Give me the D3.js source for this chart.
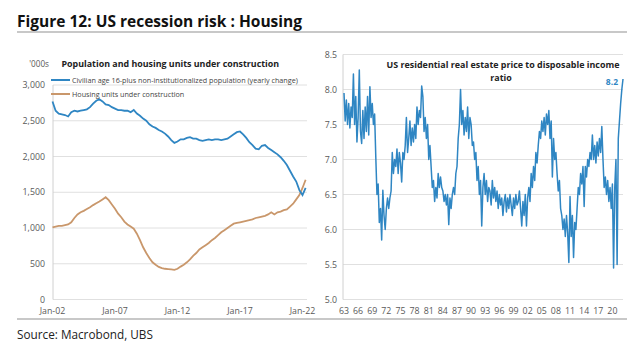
<!DOCTYPE html>
<html><head><meta charset="utf-8">
<script src="https://cdn.jsdelivr.net/npm/d3@7"></script>
<style>
html,body{margin:0;padding:0;background:#fff;}
svg{display:block;font-family:"Open Sans","Noto Sans",sans-serif;}
</style></head>
<body>
<svg id="c" width="640" height="355"></svg>
<script>
// ---------- DATA ----------
const figureTitle = "Figure 12: US recession risk : Housing";
const sourceText = "Source: Macrobond, UBS";

// Left panel (quarterly, starting Jan-2002)
const leftTitle = "Population and housing units under construction";
const leftUnit = "'000s";
const leftStartYear = 2002;
const seriesNames = ["Civilian age 16-plus non-institutionalized population (yearly change)", "Housing units under construction"];
const populationChange = [
 2770,2640,2600,2590, 2580,2560,2620,2640, 2630,2640,2650,2660, 2690,2740,2780,2800,
 2770,2730,2720,2690, 2670,2650,2650,2640, 2640,2620,2650,2600, 2570,2530,2500,2450,
 2420,2400,2370,2350, 2320,2280,2230,2190, 2210,2240,2240,2260, 2270,2250,2250,2230,
 2220,2230,2240,2230, 2240,2240,2230,2240, 2250,2280,2310,2340, 2350,2310,2260,2200,
 2160,2110,2100,2150, 2160,2120,2090,2060, 2030,1990,1940,1880, 1800,1720,1650,1530,
 1460,1560];
const housingUnits = [
 1010,1020,1030,1030, 1040,1050,1080,1140, 1190,1220,1240,1265, 1290,1320,1345,1370,
 1400,1430,1390,1330, 1270,1200,1150,1090, 1050,1020,990,920, 830,730,650,580,
 520,485,455,440, 430,425,420,415, 430,460,485,520, 560,610,650,700,
 730,760,790,830, 860,900,940,970, 1000,1030,1060,1070, 1080,1090,1100,1110,
 1120,1140,1150,1160, 1170,1190,1220,1190, 1220,1230,1250,1260, 1300,1340,1400,1460,
 1560,1675];
const leftYTicks = [0,500,1000,1500,2000,2500,3000];
const leftXTickYears = [2002,2007,2012,2017,2022];
const leftXTickLabels = ["Jan-02","Jan-07","Jan-12","Jan-17","Jan-22"];

// Right panel (quarterly, starting 1963)
const rightTitle = ["US residential real estate price to disposable income","ratio"];
const rightStartYear = 1963;
const priceToIncome = [
 7.95,7.55,7.85,7.5, 7.8,7.45,7.75,7.6, 8.22,7.5,7.9,7.25, 7.6,8.28,7.4,7.23,
 7.7,7.3,7.75,7.4, 7.9,7.35,8.04,7.6, 7.8,7.5,7.65,7.04, 6.5,6.65,6.1,6.3,
 5.85,6.56,6.2,6.0, 6.3,6.45,6.3,6.45, 6.55,7.1,6.8,7.0, 6.9,7.15,6.8,7.1,
 6.95,6.68,7.1,7.0, 7.2,7.6,7.1,7.3, 7.55,7.2,7.45,7.25, 7.5,7.3,7.75,7.5,
 7.7,7.6,8.05,7.9, 7.4,7.6,7.3,7.5, 7.0,7.2,6.9,6.6, 6.7,6.4,6.6,6.45,
 6.8,6.6,6.75,6.6, 6.55,6.4,6.5,6.35, 6.5,6.07,6.45,6.3, 6.5,6.6,6.5,6.8,
 6.9,7.3,7.5,8.0, 7.5,7.7,7.35,7.6, 7.4,7.75,7.3,7.6, 7.5,7.2,7.25,7.0,
 7.1,6.7,6.9,6.5, 6.7,6.05,6.6,6.8, 6.5,6.7,6.4,6.6, 6.55,6.35,6.7,6.45,
 6.6,6.4,6.55,6.3, 6.5,6.35,6.45,6.2, 6.4,6.5,6.25,6.45, 6.3,6.5,6.35,6.2,
 6.45,6.3,6.5,6.35, 6.4,6.55,6.3,6.05, 6.4,6.2,6.5,6.05, 6.45,6.6,6.4,6.8,
 6.6,6.9,6.7,7.1, 6.95,7.2,7.4,7.3, 7.55,7.4,7.6,7.35, 7.65,7.5,7.7,7.3,
 7.55,6.75,7.3,7.0, 7.1,6.8,6.55,6.7, 6.3,6.2,6.0,6.15, 5.9,6.2,5.95,5.53,
 6.47,5.9,6.2,5.6, 6.1,6.0,6.3,6.6, 6.5,6.8,6.65,6.9, 6.33,6.9,6.75,7.0,
 6.9,7.1,7.0,7.35, 7.0,7.2,6.95,7.25, 7.05,7.3,7.1,7.47, 7.0,6.6,6.75,6.5,
 6.7,6.4,6.6,6.3, 6.65,5.45,6.6,7.0, 5.5,7.3,7.55,7.8, 8.0,8.15];
const rightYTicks = [5.0,5.5,6.0,6.5,7.0,7.5,8.0,8.5];
const rightXTickYears = [1963,1966,1969,1972,1975,1978,1981,1984,1987,1990,1993,1996,1999,2002,2005,2008,2011,2014,2017,2020];
const lastValueLabel = "8.2";

// ---------- STYLE ----------
const blue = "#2f86c3", tan = "#c9976b", grid = "#e0e0e0", tickCol = "#595959";

const svg = d3.select("#c");

function fit(sel, w){ // scale font-size so text width equals w
  const n = sel.node(); const l = n.getComputedTextLength();
  const fs = parseFloat(sel.attr("font-size"));
  const nf = fs*w/l;
  sel.attr("font-size", nf.toFixed(2));
  return nf;
}

// Header
fit(svg.append("text").attr("x",17).attr("y",27).attr("font-size",17).attr("font-weight",700)
  .attr("fill","#111").text(figureTitle), 285);
svg.append("rect").attr("x",17).attr("y",31).attr("width",610).attr("height",2).attr("fill","#c8c8c8");
svg.append("rect").attr("x",17).attr("y",318).attr("width",610).attr("height",2).attr("fill","#c8c8c8");
fit(svg.append("text").attr("x",17).attr("y",339).attr("font-size",14).attr("fill","#222").text(sourceText), 136);

// ---------- LEFT PANEL ----------
const lx = d3.scaleLinear().domain([2002, 2022.4]).range([52.5, 307.5]);
const ly = d3.scaleLinear().domain([0, 3000]).range([299.5, 85]);
const L = svg.append("g");
L.selectAll("line.g").data(leftYTicks).join("line")
  .attr("x1",53).attr("x2",307).attr("y1",d=>ly(d)).attr("y2",d=>ly(d))
  .attr("stroke",grid).attr("stroke-width",1);
L.append("line").attr("x1",53).attr("x2",53).attr("y1",ly(3000)).attr("y2",ly(0)).attr("stroke","#d0d0d0");
L.selectAll("text.yt").data(leftYTicks).join("text")
  .attr("x",45).attr("y",d=>ly(d)+3).attr("text-anchor","end").attr("font-size",8.8)
  .attr("fill",tickCol).text(d=>d3.format(",")(d));
L.selectAll("text.xt").data(leftXTickYears).join("text")
  .attr("x",d=>lx(d)).attr("y",313.5).attr("text-anchor","middle").attr("font-size",8.8)
  .attr("fill",tickCol).text((d,i)=>leftXTickLabels[i]);
L.append("text").attr("x",49).attr("y",67).attr("text-anchor","end").attr("font-size",8.2).attr("fill",tickCol).text(leftUnit);
fit(L.append("text").attr("x",61.5).attr("y",67).attr("font-size",11).attr("font-weight",700)
  .attr("fill","#222").text(leftTitle), 218);

const lineL = arr => d3.line().x((d,i)=>lx(leftStartYear + i*0.25)).y(d=>ly(d))(arr);
L.append("path").attr("d",lineL(housingUnits)).attr("fill","none").attr("stroke",tan).attr("stroke-width",1.8);
L.append("path").attr("d",lineL(populationChange)).attr("fill","none").attr("stroke",blue).attr("stroke-width",1.8);

// legend
const legCols = [blue, tan];
let legFont = 8.6;
seriesNames.forEach((n,i)=>{
  const y = 80 + i*14;
  L.append("line").attr("x1",51).attr("x2",70).attr("y1",y).attr("y2",y).attr("stroke",legCols[i]).attr("stroke-width",2);
  const t = L.append("text").attr("x",72).attr("y",y+3).attr("font-size",legFont).attr("fill","#444").text(n);
  if(i===0) legFont = fit(t, 226);
});

// ---------- RIGHT PANEL ----------
const rx = d3.scaleLinear().domain([1963, 2022.25]).range([344, 623]);
const ry = d3.scaleLinear().domain([5, 8.5]).range([299.5, 54.5]);
const R = svg.append("g");
R.selectAll("line.g").data(rightYTicks).join("line")
  .attr("x1",343).attr("x2",623).attr("y1",d=>ry(d)).attr("y2",d=>ry(d))
  .attr("stroke",grid).attr("stroke-width",1);
R.append("line").attr("x1",343).attr("x2",343).attr("y1",ry(8.5)).attr("y2",ry(5)).attr("stroke","#d0d0d0");
R.selectAll("text.yt").data(rightYTicks).join("text")
  .attr("x",337).attr("y",d=>ry(d)+3).attr("text-anchor","end").attr("font-size",8.8)
  .attr("fill",tickCol).text(d=>d3.format(".1f")(d));
R.selectAll("text.xt").data(rightXTickYears).join("text")
  .attr("x",d=>rx(d)).attr("y",314).attr("text-anchor","middle").attr("font-size",8.8)
  .attr("fill",tickCol).text(d=>String(d).slice(2));
const rt1 = R.append("text").attr("x",503).attr("y",68).attr("text-anchor","middle").attr("font-weight",700)
  .attr("fill","#222").attr("font-size",10.5).text(rightTitle[0]);
const rtf = fit(rt1, 233);
R.append("text").attr("x",501).attr("y",81).attr("text-anchor","middle").attr("font-weight",700)
  .attr("fill","#222").attr("font-size",rtf).text(rightTitle[1]);
const lineR = d3.line().x((d,i)=>rx(rightStartYear + i*0.25)).y(d=>ry(d));
R.append("path").attr("d",lineR(priceToIncome)).attr("fill","none").attr("stroke",blue).attr("stroke-width",1.5).attr("stroke-linejoin","round");
R.append("text").attr("x",618).attr("y",85).attr("text-anchor","end").attr("font-size",8.5)
  .attr("font-weight",700).attr("fill",blue).text(lastValueLabel);
</script>
</body></html>
